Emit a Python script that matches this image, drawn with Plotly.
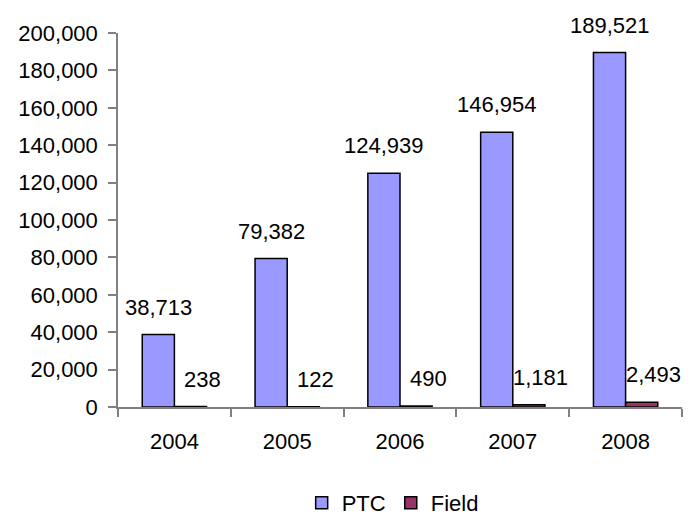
import plotly.graph_objects as go

years = ["2004", "2005", "2006", "2007", "2008"]
ptc = [38713, 79382, 124939, 146954, 189521]
field = [238, 122, 490, 1181, 2493]
y_ticks = [0, 20000, 40000, 60000, 80000, 100000, 120000, 140000, 160000, 180000, 200000]

FONT = "Liberation Sans, Arial, sans-serif"
FS = 22
fig = go.Figure()
fig.add_trace(go.Bar(name="PTC", x=years, y=ptc,
                     marker=dict(color="#9999FF", line=dict(color="black", width=1.5))))
fig.add_trace(go.Bar(name="Field", x=years, y=field,
                     marker=dict(color="#993366", line=dict(color="black", width=1.5))))

annotations = []
for i, v in enumerate(ptc):
    annotations.append(dict(x=i, y=v, text=f"{v:,}", showarrow=False, xref="x", yref="y",
                            xshift=-16, yshift=13, yanchor="bottom",
                            font=dict(family=FONT, size=FS, color="black")))
for i, v in enumerate(field):
    annotations.append(dict(x=i, y=v, text=f"{v:,}", showarrow=False, xref="x", yref="y",
                            xshift=28, yshift=13, yanchor="bottom",
                            font=dict(family=FONT, size=FS, color="black")))

fig.update_layout(
    width=693, height=516,
    margin=dict(l=110, r=19, t=25, b=117),
    paper_bgcolor="white", plot_bgcolor="white",
    barmode="group", bargap=0.43, bargroupgap=0,
    font=dict(family=FONT, size=FS, color="black"),
    annotations=annotations,
    legend=dict(orientation="h", x=0.487, xanchor="center", yref="container",
                y=-0.024, yanchor="bottom",
                font=dict(family=FONT, size=FS), itemwidth=30, tracegroupgap=0),
    showlegend=True,
)
fig.update_xaxes(type="category", range=[-0.5, 4.5], showline=True, linecolor="#808080",
                 linewidth=1.5, ticks="outside", tickson="boundaries", ticklen=8,
                 tickcolor="#808080", tickwidth=1.5, ticklabelstandoff=14,
                 showgrid=False, tickangle=0, automargin=False)
fig.update_yaxes(range=[0, 200000], tickvals=y_ticks, tickformat=",", showline=True,
                 linecolor="#808080", linewidth=1.5, ticks="outside", ticklen=8,
                 tickcolor="#808080", tickwidth=1.5, showgrid=False, zeroline=False,
                 ticklabelstandoff=6, automargin=False)

fig.write_html("out.html")
